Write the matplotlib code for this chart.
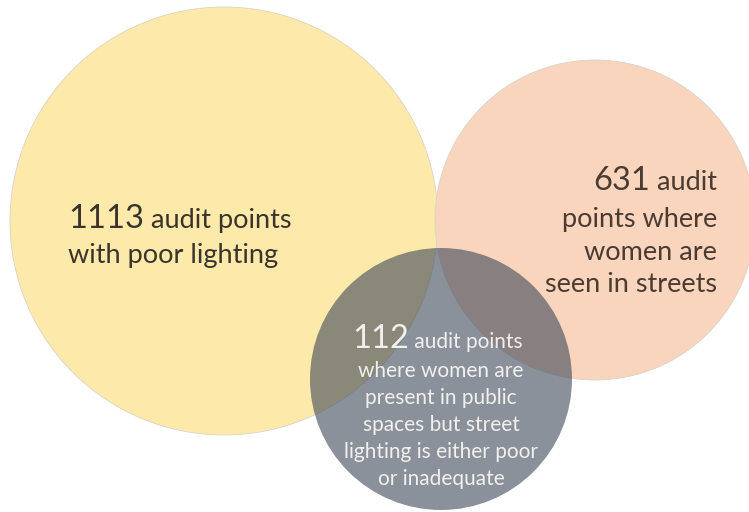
import matplotlib.pyplot as plt
from matplotlib.patches import Circle

plt.rcParams['font.family'] = ['Lato', 'DejaVu Sans']

# numbers and captions of the three sets
counts = ["1113", "631", "112"]
first_rest = [" audit points", " audit", " audit points"]
yellow_lines = ["with poor lighting"]
peach_lines = ["points where", "women are", "seen in streets"]
gray_lines = ["where women are", "present in public", "spaces but street",
              "lighting is either poor", "or inadequate"]

fig = plt.figure(figsize=(7.49, 5.12), dpi=100)
ax = fig.add_axes([0, 0, 1, 1])
ax.set_xlim(0, 749)
ax.set_ylim(512, 0)
ax.set_aspect('equal')
ax.axis('off')
rend = fig.canvas.get_renderer()

# circles (pixel layout)
ax.add_patch(Circle((224, 221), 214, fc='#FDE9AA', ec='#d9d4c8', lw=0.6, zorder=1))
ax.add_patch(Circle((595, 220), 160, fc='#F8D5BC', ec='#d9d4c8', lw=0.6, zorder=1))
ax.add_patch(Circle((441, 379), 131, fc=(62/255, 72/255, 88/255), ec='none',
                    alpha=0.6, zorder=2))

big = 23.5
small = 19.5
gsmall = 15
c_yel = '#3B342C'
c_pea = '#4B3B31'
c_gry = '#F2F0EE'


def width(t):
    return t.get_window_extent(rend).width


# yellow set
t = ax.text(68, 228, counts[0], fontsize=big, va='baseline', color=c_yel, zorder=5)
ax.text(68 + width(t), 228, first_rest[0], fontsize=small, va='baseline',
        color=c_yel, zorder=5)
for i, s in enumerate(yellow_lines):
    ax.text(68, 263 + i * 33, s, fontsize=small, va='baseline', color=c_yel, zorder=5)

# peach set
t = ax.text(717, 190, first_rest[1], fontsize=small, ha='right', va='baseline',
            color=c_pea, zorder=5)
ax.text(717 - width(t), 190, counts[1], fontsize=big, ha='right', va='baseline',
        color=c_pea, zorder=5)
for i, s in enumerate(peach_lines):
    ax.text(717, 227 + i * 32.5, s, fontsize=small, ha='right', va='baseline',
            color=c_pea, zorder=5)

# gray (intersection)
t = ax.text(352, 348, counts[2], fontsize=big, va='baseline', color=c_gry, zorder=5)
ax.text(352 + width(t), 348, first_rest[2], fontsize=gsmall, va='baseline',
        color=c_gry, zorder=5)
for i, s in enumerate(gray_lines):
    ax.text(441, 377 + i * 27, s, fontsize=gsmall, ha='center', va='baseline',
            color=c_gry, zorder=5)

fig.savefig('out.png', dpi=100)
